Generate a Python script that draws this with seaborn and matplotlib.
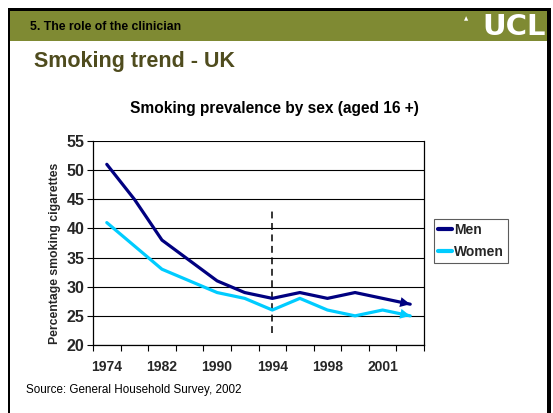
import matplotlib
matplotlib.use("Agg")
import matplotlib.pyplot as plt
from matplotlib.patches import Rectangle
import seaborn as sns
import pandas as pd
import numpy as np

# ---- data ----
years = ["1974", "1978", "1982", "1986", "1990", "1992", "1994",
         "1996", "1998", "2000", "2001", "2002"]
men = [51, 45, 38, 34.5, 31, 29, 28, 29, 28, 29, 28, 27]
women = [41, 37, 33, 31, 29, 28, 26, 28, 26, 25, 26, 25]
shown_labels = ["1974", "1982", "1990", "1994", "1998", "2001"]
y_ticks = [20, 25, 30, 35, 40, 45, 50, 55]
marker_year = "1994"

sns.set_theme(style="white")
plt.rcParams["font.family"] = ["Liberation Sans", "DejaVu Sans"]

W, H = 553, 413
fig = plt.figure(figsize=(W / 100, H / 100), dpi=100)
fig.patch.set_facecolor("white")


def px_rect(x0, y0, x1, y1, color):
    fig.add_artist(Rectangle((x0 / W, 1 - y1 / H), (x1 - x0) / W, (y1 - y0) / H,
                             transform=fig.transFigure, facecolor=color,
                             edgecolor="none", zorder=0))


# slide frame and header band
px_rect(9.5, 10.5, 547, 40.5, "#7f8a33")
px_rect(7.5, 8, 550.5, 10.5, "black")
px_rect(7.5, 8, 10, 413, "black")
px_rect(547, 8, 550.5, 413, "black")

fig.text(30 / W, 1 - 27 / H, "5. The role of the clinician", fontsize=8.8,
         fontweight="bold", color="black", va="center", ha="left")
fig.text(464 / W, 1 - 19 / H, "\u25b2", fontsize=4, color="white",
         va="center", ha="left", family=["DejaVu Sans"])
fig.text(546 / W, 1 - 27 / H, "UCL", fontsize=21, fontweight="heavy",
         color="white", va="center", ha="right", family=["DejaVu Sans"])
fig.text(34 / W, 1 - 61 / H, "Smoking trend - UK", fontsize=15.5,
         fontweight="bold", color="#4f4c1e", va="center", ha="left")
fig.text(274 / W, 1 - 108 / H, "Smoking prevalence by sex (aged 16 +)",
         fontsize=11.2, fontweight="bold", color="black", va="center",
         ha="center")
fig.text(26 / W, 1 - 390 / H, "Source: General Household Survey, 2002",
         fontsize=8.4, color="black", va="center", ha="left")

# ---- chart ----
ax = fig.add_axes([93 / W, 1 - 345 / H, (424 - 93) / W, (345 - 141) / H])

idx = np.arange(len(years))
df = pd.DataFrame({
    "pos": np.concatenate([idx, idx]),
    "value": men + women,
    "sex": ["Men"] * len(years) + ["Women"] * len(years),
})
palette = {"Men": "#000080", "Women": "#00CCFF"}
sns.lineplot(data=df, x="pos", y="value", hue="sex", palette=palette,
             linewidth=2.3, ax=ax, zorder=4)

# arrowheads at the end of each series
for vals, name in [(men, "Men"), (women, "Women")]:
    ax.annotate("", xy=(idx[-1], vals[-1]), xytext=(idx[-2], vals[-2]),
                arrowprops=dict(arrowstyle="-|>,head_length=0.6,head_width=0.3",
                                color=palette[name], lw=0, mutation_scale=12,
                                shrinkA=0, shrinkB=0),
                zorder=5)

# dashed marker line at 1994
mi = years.index(marker_year)
ax.vlines(mi, 22, 43, colors="black", linestyles=(0, (4.5, 3)), lw=1.1, zorder=3)

ax.set_xlim(-0.5, len(years) - 0.5)
ax.set_ylim(20, 55)
ax.set_yticks(y_ticks)
ax.set_yticklabels([str(v) for v in y_ticks], fontsize=11.5, fontweight="bold")
ax.yaxis.grid(True, color="black", lw=0.8)
ax.set_axisbelow(True)

label_pos = [years.index(l) for l in shown_labels]
ax.set_xticks(label_pos)
ax.set_xticklabels(shown_labels, fontsize=10, fontweight="bold")
ax.set_xticks(np.arange(len(years) + 1) - 0.5, minor=True)
ax.tick_params(axis="x", which="major", length=0, pad=11)
ax.tick_params(axis="x", which="minor", length=4.5, width=0.8, color="black",
               direction="out", bottom=True)
ax.tick_params(axis="y", which="major", length=4, width=0.8, color="black",
               direction="out", left=True, pad=2)

for s in ["left", "bottom", "right"]:
    ax.spines[s].set_visible(True)
    ax.spines[s].set_color("black")
    ax.spines[s].set_linewidth(0.9)
ax.spines["top"].set_visible(False)

ax.set_xlabel("")
ax.set_ylabel("Percentage smoking cigarettes", fontsize=8.8, fontweight="bold")
ax.yaxis.set_label_coords(-0.097, 0.45)

leg = ax.legend(loc="upper left", bbox_to_anchor=(1.03, 0.62), borderaxespad=0,
                frameon=True, fancybox=False, fontsize=10, handlelength=1.0,
                handletextpad=0.15, borderpad=0.3, labelspacing=0.6)
leg.get_frame().set_edgecolor("#333333")
leg.get_frame().set_linewidth(0.8)
for t in leg.get_texts():
    t.set_fontweight("bold")
for l in leg.get_lines():
    l.set_linewidth(3)

fig.savefig("out.png", dpi=100)
